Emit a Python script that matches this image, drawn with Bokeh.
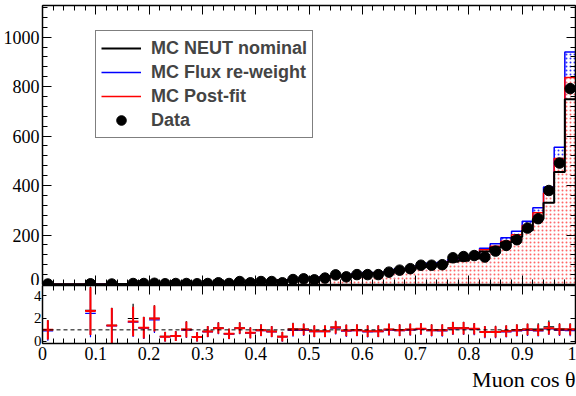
import numpy as np
from bokeh.plotting import figure
from bokeh.models import (LinearAxis, SingleIntervalTicker, FixedTicker, Legend, LegendItem,
                          Span, Title, CustomJSTickFormatter, Range1d)
from bokeh.layouts import column
from bokeh.embed import file_html
from bokeh.resources import INLINE

nan = float("nan")

# ---------------- data ----------------
n_bins = 50
x_lo, x_hi = 0.0, 1.0
edges = np.linspace(x_lo, x_hi, n_bins + 1)
centers = 0.5 * (edges[:-1] + edges[1:])

data_counts = [2, nan, nan, nan, 3, nan, 2, nan, 4, 4,
               5, 3, 4, 4, 3, 4, 7, 4, 12, 7,
               12, 12, 7, 20, 23, 19, 26, 39, 31, 40,
               40, 40, 50, 58, 64, 78, 78, 80, 108, 113,
               117, 111, 135, 158, 181, 228, 266, 380, 491, 792]

mc_nominal = [1.4, 1.0, 1.0, 1.1, 1.1, 1.4, 1.4, 1.9, 2.3, 2.9,
              2.9, 4.8, 5.3, 5.8, 6.3, 6.8, 7.2, 9.2, 9.6, 11.6,
              12.5, 13.5, 17.5, 19.5, 23.5, 24.5, 29, 32, 31, 40,
              44, 44, 48, 58, 60, 70, 78, 80, 92, 96,
              105, 133, 150, 170, 192, 219, 265, 331, 455, 749]

mc_flux = [1.6, 1.1, 1.1, 1.3, 1.3, 1.6, 1.6, 2.1, 2.6, 3.2,
           3.2, 5.3, 5.8, 6.3, 6.9, 7.4, 8.0, 10, 10.6, 12.7,
           13.8, 14.8, 19, 21.5, 26, 27, 32, 35, 34.5, 44,
           48.5, 48, 52, 64, 66, 77, 86, 89, 100, 106,
           115, 147, 165, 189, 215, 256, 310, 394, 555, 940]

mc_postfit = [1.5, 1.0, 1.0, 1.2, 1.2, 1.5, 1.5, 2.0, 2.5, 3.0,
              3.0, 5.0, 5.5, 6.0, 6.5, 7.0, 7.5, 9.5, 10, 12,
              13, 14, 18, 20, 24, 25, 30, 33, 32, 41,
              45, 45, 49, 60, 62, 72, 80, 82, 94, 98,
              107, 140, 155, 175, 201, 239, 290, 370, 509, 837]

ratio_nominal = [1.02, nan, nan, nan, 2.72, nan, 1.40, nan, 2.00, 1.20,
                 2.02, 0.42, 0.47, 1.05, 0.40, 0.87, 1.17, 0.67, 1.17, 0.76,
                 0.99, 0.87, 0.42, 1.08, 1.06, 0.90, 0.90, 1.25, 0.96, 0.99,
                 0.90, 0.90, 1.05, 0.99, 1.05, 1.11, 0.99, 0.99, 1.17, 1.17,
                 1.11, 0.84, 0.85, 0.91, 1.00, 1.06, 1.07, 1.27, 1.08, 1.07]

ratio_flux = [0.90, nan, nan, nan, 2.45, nan, 1.35, nan, 1.68, 1.15,
              1.88, 0.38, 0.43, 0.98, 0.36, 0.82, 1.12, 0.62, 1.12, 0.71,
              0.94, 0.82, 0.38, 0.95, 0.95, 0.84, 0.84, 1.15, 0.88, 0.93,
              0.82, 0.84, 0.98, 0.93, 0.98, 1.04, 0.92, 0.90, 1.09, 1.10,
              1.03, 0.77, 0.77, 0.83, 0.91, 0.96, 0.91, 1.09, 0.95, 0.93]

ratio_postfit = [1.00, nan, nan, nan, 2.65, nan, 1.38, nan, 1.73, 1.18,
                 2.00, 0.40, 0.45, 1.03, 0.38, 0.85, 1.15, 0.65, 1.15, 0.74,
                 0.97, 0.85, 0.40, 1.03, 1.03, 0.88, 0.88, 1.20, 0.94, 0.97,
                 0.88, 0.88, 1.03, 0.97, 1.03, 1.09, 0.97, 0.97, 1.15, 1.15,
                 1.09, 0.82, 0.82, 0.88, 0.97, 1.03, 0.97, 1.15, 1.03, 1.03]

ratio_err = [0.85, nan, nan, nan, 2.10, nan, 1.55, nan, 1.30, 0.95,
             1.15, 0.42, 0.42, 0.70, 0.40, 0.47, 0.50, 0.45, 0.50, 0.47,
             0.50, 0.47, 0.42, 0.55, 0.50, 0.50, 0.50, 0.55, 0.50, 0.50,
             0.50, 0.50, 0.50, 0.50, 0.50, 0.50, 0.50, 0.50, 0.55, 0.55,
             0.50, 0.50, 0.50, 0.50, 0.50, 0.50, 0.50, 0.55, 0.50, 0.50]

legend_labels = ["MC NEUT nominal", "MC Flux re-weight", "MC Post-fit", "Data"]
x_title = "Muon cos θ"

SERIF = "Liberation Serif"
SANS = "Liberation Sans"
RED = "#ff0000"
BLUE = "#0000ff"


def style_axis(ax, ticker, major_in, minor_in, labels=True, size="18px", standoff=3,
               formatter=None):
    ax.ticker = ticker
    ax.axis_line_color = "black"
    ax.axis_line_width = 1.5
    ax.major_tick_line_color = "black"
    ax.minor_tick_line_color = "black"
    ax.major_tick_line_width = 1
    ax.minor_tick_line_width = 1
    ax.major_tick_in = major_in
    ax.major_tick_out = 0
    ax.minor_tick_in = minor_in
    ax.minor_tick_out = 0
    if formatter is not None:
        ax.formatter = formatter
    if labels:
        ax.major_label_text_font = SERIF
        ax.major_label_text_font_size = size
        ax.major_label_text_color = "black"
        ax.major_label_standoff = standoff
    else:
        ax.formatter = CustomJSTickFormatter(code="return '';")
        ax.major_label_text_font_size = "0px"
        ax.major_label_standoff = 0


def x_ticker():
    return SingleIntervalTicker(interval=0.1, num_minor_ticks=5)


# ---------------- top panel ----------------
top = figure(width=576, height=285, x_range=Range1d(x_lo, x_hi), y_range=Range1d(0, 1128),
             output_backend="svg", toolbar_location=None,
             min_border_left=42, min_border_right=1, min_border_top=5, min_border_bottom=1)
top.grid.visible = False
top.outline_line_color = None

top.add_layout(LinearAxis(), "above")
top.add_layout(LinearAxis(), "right")
for ax in top.below + top.above:
    style_axis(ax, x_ticker(), 9, 5, labels=False)
style_axis(top.left[0], SingleIntervalTicker(interval=200, num_minor_ticks=5), 9, 5,
           labels=True, size="18px", standoff=3)
style_axis(top.right[0], SingleIntervalTicker(interval=200, num_minor_ticks=5), 9, 5,
           labels=False)

left = edges[:-1]
right = edges[1:]
top.quad(left=left, right=right, bottom=0, top=mc_flux, fill_color="white",
         line_color=None, hatch_pattern="dot", hatch_color=BLUE, hatch_scale=4,
         hatch_weight=1, hatch_alpha=0.8)
top.quad(left=left, right=right, bottom=0, top=mc_postfit, fill_color="white",
         line_color=None, hatch_pattern="dot", hatch_color=RED, hatch_scale=4,
         hatch_weight=1, hatch_alpha=0.6)

r_flux = top.step(x=edges, y=list(mc_flux) + [mc_flux[-1]], mode="after",
                  line_color=BLUE, line_width=1.5)
r_post = top.step(x=edges, y=list(mc_postfit) + [mc_postfit[-1]], mode="after",
                  line_color=RED, line_width=1.5)
r_nom = top.step(x=edges, y=list(mc_nominal) + [mc_nominal[-1]], mode="after",
                 line_color="black", line_width=2)
r_data = top.scatter(x=centers, y=data_counts, size=10.5, color="black")

legend = Legend(items=[LegendItem(label=legend_labels[0], renderers=[r_nom]),
                       LegendItem(label=legend_labels[1], renderers=[r_flux]),
                       LegendItem(label=legend_labels[2], renderers=[r_post]),
                       LegendItem(label=legend_labels[3], renderers=[r_data])],
                location=(53, 146), border_line_color="black", border_line_width=1,
                background_fill_color="white", background_fill_alpha=1,
                label_text_font=SANS, label_text_font_size="18px",
                label_text_font_style="bold", glyph_width=40, glyph_height=24,
                label_height=24, spacing=0, padding=5, label_standoff=10, margin=0)
top.add_layout(legend)

# ---------------- ratio panel ----------------
bot = figure(width=576, height=111, x_range=top.x_range, y_range=Range1d(-0.2, 4.9),
             output_backend="svg", toolbar_location=None,
             min_border_left=42, min_border_right=1, min_border_top=0, min_border_bottom=53)
bot.grid.visible = False
bot.outline_line_color = None
bot.add_layout(LinearAxis(), "above")
bot.add_layout(LinearAxis(), "right")
style_axis(bot.below[0], x_ticker(), 9, 5, labels=True, size="18px", standoff=3,
           formatter=CustomJSTickFormatter(code="return String(Math.round(tick * 10) / 10);"))
style_axis(bot.above[0], x_ticker(), 9, 5, labels=False)
style_axis(bot.left[0], FixedTicker(ticks=[0, 2, 4], minor_ticks=[]), 4, 0,
           labels=True, size="15px", standoff=1)
style_axis(bot.right[0], FixedTicker(ticks=[0, 2, 4], minor_ticks=[]), 5, 0, labels=False)

bot.add_layout(Span(location=1, dimension="width", line_color="black", line_width=1,
                    line_dash="4 3"))

err = np.array(ratio_err)
for vals, col, lw in [(ratio_nominal, "black", 1.2), (ratio_flux, BLUE, 1.2),
                      (ratio_postfit, RED, 2)]:
    v = np.array(vals)
    m = ~np.isnan(v)
    bot.segment(x0=left[m], x1=right[m], y0=v[m], y1=v[m], line_color=col, line_width=lw)
    bot.segment(x0=centers[m], x1=centers[m], y0=np.clip(v[m] - err[m], -0.2, None),
                y1=v[m] + err[m], line_color=col, line_width=lw)

bot.add_layout(Title(text=x_title, align="right", text_font=SERIF, text_font_size="22px",
                     text_font_style="normal", text_color="black", standoff=4, offset=0),
               "below")

layout = column(top, bot, spacing=0)
open("out.html", "w").write(file_html(layout, INLINE))
